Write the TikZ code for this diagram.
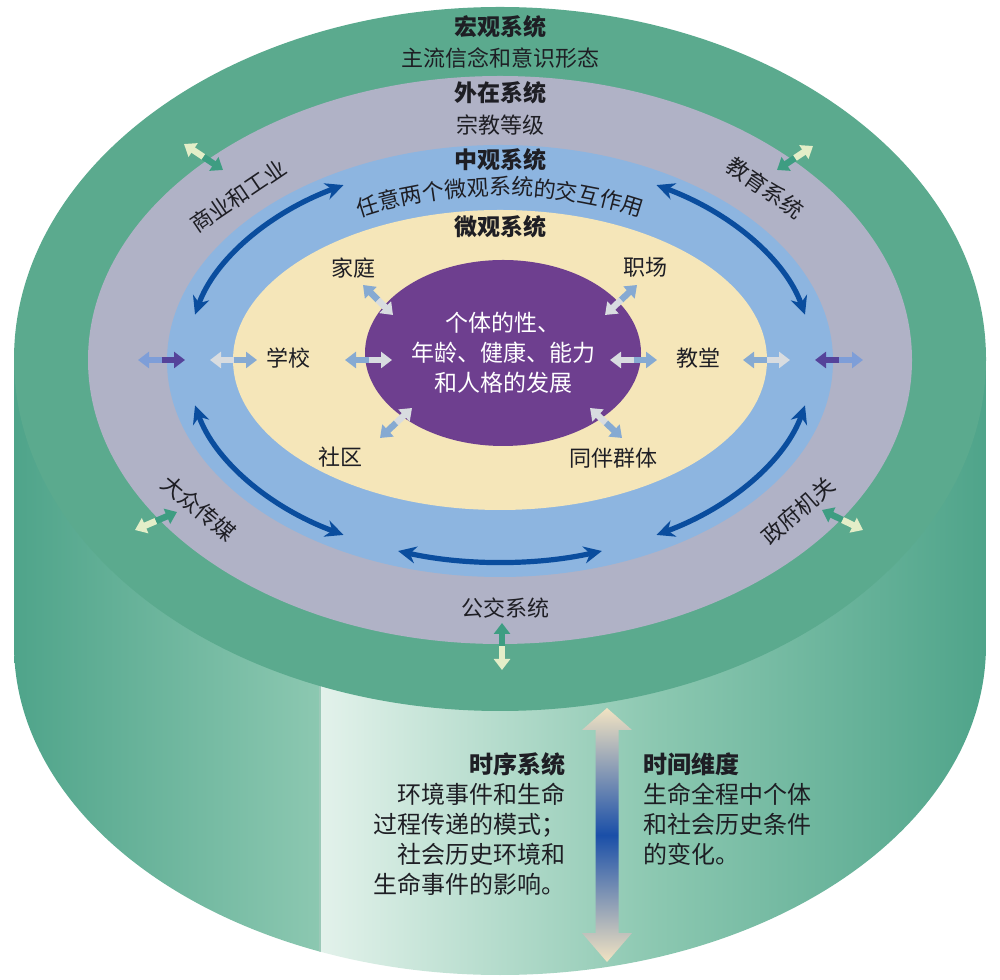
\documentclass[tikz,border=0pt]{standalone}
\usepackage{fontspec}
\setmainfont{Noto Sans CJK SC}
\usetikzlibrary{arrows.meta,calc,shapes.geometric,decorations.text}
\definecolor{macrogreen}{HTML}{5BAA8E}
\definecolor{exolav}{HTML}{B0B2C6}
\definecolor{mesoblue}{HTML}{8DB5E0}
\definecolor{microcream}{HTML}{F5E6B9}
\definecolor{selfpurple}{HTML}{6E3F8F}
\definecolor{arcblue}{HTML}{0A4D9E}
\definecolor{sidedark}{HTML}{4FA48A}
\definecolor{sidemid}{HTML}{8CC8B1}
\definecolor{sidelight}{HTML}{E3F2EB}
\definecolor{sideline}{HTML}{9CC9B8}
\definecolor{inkgray}{HTML}{1E1E24}
\definecolor{tipblue}{HTML}{86AAD2}
\definecolor{tiplight}{HTML}{D8DCE0}
\definecolor{tipviolet}{HTML}{55439A}
\definecolor{tipsky}{HTML}{7E9ED8}
\definecolor{tipteal}{HTML}{3E9D82}
\definecolor{tipcream}{HTML}{E4EEC8}
\definecolor{timecream}{HTML}{F2E3C2}
\definecolor{timeblue}{HTML}{1A4FA8}
\tikzset{
  lbl/.style={font=\fontsize{11}{13}\selectfont, text=inkgray, inner sep=0pt},
  ttl/.style={font=\bfseries\fontsize{11.5}{13}\selectfont, text=inkgray, inner sep=0pt},
  mesoarc/.style={draw=arcblue, line width=2.6pt,
    {Stealth[length=9pt,width=8.5pt]}-{Stealth[length=9pt,width=8.5pt]}},
  link/.style={line width=3.2pt},
}
% two-coloured double arrow: from, to, colour at from, colour at to
\newcommand{\twotone}[4]{%
  \draw[link,#3,{Triangle[length=5.5pt,width=8pt]}-] (#1) -- ($(#1)!0.5!(#2)$);
  \draw[link,#4,-{Triangle[length=5.5pt,width=8pt]}] ($(#1)!0.5!(#2)$) -- (#2);}
\begin{document}
\begin{tikzpicture}[x=0.5pt,y=0.5pt]
  \useasboundingbox (0,0) rectangle (1000,979);
  % side of the drum
  \begin{scope}
    \clip (14,620) -- (14,334) arc[start angle=180,end angle=360,x radius=486,y radius=330]
      -- (986,620) -- cycle;
    \shade[left color=sidedark,right color=sidemid] (14,0) rectangle (320,620);
    \shade[left color=sidelight,right color=sidedark,middle color=sidemid] (320,0) rectangle (986,620);
    \draw[sideline,line width=0.6pt] (320,0) -- (320,620);
  \end{scope}
  % top face
  \fill[macrogreen] (500,620) ellipse[x radius=486,y radius=352];
  \fill[exolav] (500,619) ellipse[x radius=412,y radius=284];
  \fill[mesoblue] (500,618) ellipse[x radius=333,y radius=216];
  \fill[microcream] (500,619) ellipse[x radius=267,y radius=150];
  \node (self) [ellipse, fill=selfpurple, minimum width=138pt, minimum height=93pt,
    inner sep=0pt, text=white, align=center, font=\fontsize{11.5}{15}\selectfont]
    at (503,626) {个体的性、\\年龄、健康、能力\\和人格的发展};

  \path
    (500,952) node[ttl] (macro) {宏观系统}
    (500,921) node[lbl] (macrotxt) {主流信念和意识形态}
    (500,886) node[ttl] (exo) {外在系统}
    (500,854) node[lbl] (exotxt) {宗教等级}
    (500,819) node[ttl] (meso) {中观系统}
    (500,752) node[ttl] (micro) {微观系统}
    (353,711) node[lbl] (family) {家庭}
    (645,712) node[lbl] (work) {职场}
    (288,621) node[lbl] (school) {学校}
    (698,621) node[lbl] (church) {教堂}
    (340,522) node[lbl] (community) {社区}
    (613,521) node[lbl] (peers) {同伴群体}
    (505,371) node[lbl] (transit) {公交系统}
    (238,783) node[lbl,rotate=34] (trade) {商业和工业}
    (765,791) node[lbl,rotate=-35] (education) {教育系统}
    (199,471) node[lbl,rotate=-40] (media) {大众传媒}
    (798,468) node[lbl,rotate=41] (government) {政府机关};

  % interactions between microsystems
  \coordinate (mesoc) at (500,619);
  \path[decorate,decoration={text along path,text align=center,
      text={|\fontsize{11}{13}\selectfont\color{inkgray}|任意两个微观系统的交互作用}}]
    ($(mesoc)+(140:280 and 165)$) arc[start angle=140,end angle=40,x radius=280,y radius=165];
  \foreach \a/\b in {13/60,120/167,193/240,251/289,300/347}
    \draw[mesoarc] ($(mesoc)+(\a:313 and 202)$) arc[start angle=\a,end angle=\b,x radius=313,y radius=202];

  % small arrows
  \foreach \n/\x/\y in {fa/363/694, fb/393/664, wa/637/694, wb/605/664,
      sa/210/619, sb/257/619, sc/345/619, sd/392/619,
      ca/610/619, cb/657/619, cc/743/619, cd/790/619,
      ka/412/571, kb/380/541, pa/590/571, pb/622/541,
      ma/138/619, mb/185/619, mc/815/619, md/863/619,
      ta/184/835, tb/223/809, ea/777/809, eb/813/833,
      ga/135/449, gb/177/467, va/822/469, vb/863/449,
      ua/502/356, ub/502/309}
    \coordinate (\n) at (\x,\y);
  \twotone{fa}{fb}{tipblue}{tiplight}
  \twotone{wa}{wb}{tipblue}{tiplight}
  \twotone{sa}{sb}{tiplight}{tipblue}
  \twotone{sc}{sd}{tipblue}{tiplight}
  \twotone{ca}{cb}{tiplight}{tipblue}
  \twotone{cc}{cd}{tipblue}{tiplight}
  \twotone{ka}{kb}{tiplight}{tipblue}
  \twotone{pa}{pb}{tiplight}{tipblue}
  \twotone{ma}{mb}{tipsky}{tipviolet}
  \twotone{mc}{md}{tipviolet}{tipsky}
  \twotone{ta}{tb}{tipcream}{tipteal}
  \twotone{ea}{eb}{tipteal}{tipcream}
  \twotone{ga}{gb}{tipcream}{tipteal}
  \twotone{va}{vb}{tipteal}{tipcream}
  \twotone{ua}{ub}{tipteal}{tipcream}

  % time dimension
  \coordinate (ttop) at (607,271);
  \coordinate (tbot) at (607,17);
  \shade[top color=timecream,bottom color=timecream,middle color=timeblue]
    (ttop) -- ++(25,-22) -- ++(-13.5,0) |- ($(tbot)+(11.5,29)$) -- ++(13.5,0) -- (tbot)
    -- ++(-25,29) -- ++(13.5,0) |- ($(ttop)+(-11.5,-22)$) -- ++(-13.5,0) -- cycle;
  \node[lbl, anchor=north east, align=right, font=\fontsize{12}{15}\selectfont] (chrono)
    at (566,227) {\textbf{时序系统}\\环境事件和生命\\过程传递的模式；\\社会历史环境和\\生命事件的影响。};
  \node[lbl, anchor=north west, align=left, font=\fontsize{12}{15}\selectfont] (timedim)
    at (643,227) {\textbf{时间维度}\\生命全程中个体\\和社会历史条件\\的变化。};
\end{tikzpicture}
\end{document}
